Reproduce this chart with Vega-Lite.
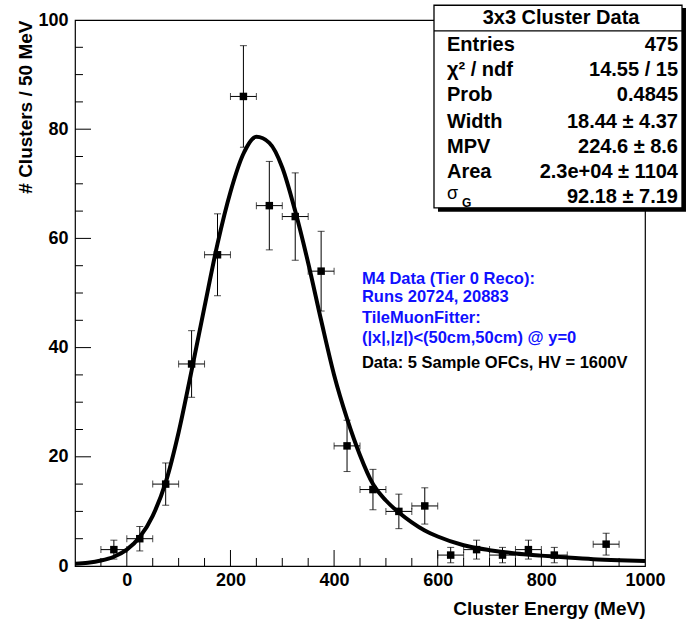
{
  "$schema": "https://vega.github.io/schema/vega-lite/v6.json",
  "width": 570,
  "height": 546,
  "autosize": {"type": "none"},
  "padding": {"left": 75, "top": 20, "right": 41, "bottom": 63},
  "background": "white",
  "config": {
    "font": "Liberation Sans",
    "view": {"stroke": "black", "strokeWidth": 1.2},
    "axis": {
      "domain": false,
      "grid": false,
      "ticks": false,
      "labelFont": "Liberation Sans",
      "labelFontWeight": "bold",
      "labelFontSize": 18,
      "labelColor": "black",
      "titleFont": "Liberation Sans",
      "titleFontWeight": "bold",
      "titleFontSize": 19,
      "titleColor": "black",
      "labelFlush": false,
      "labelOverlap": false
    }
  },
  "datasets": {
    "hist": [
      {"energy": -25, "clusters": 3, "elo": -50, "ehi": 0, "clo": 1.27, "chi": 4.73},
      {"energy": 25, "clusters": 5, "elo": 0, "ehi": 50, "clo": 2.76, "chi": 7.24},
      {"energy": 75, "clusters": 15, "elo": 50, "ehi": 100, "clo": 11.13, "chi": 18.87},
      {"energy": 125, "clusters": 37, "elo": 100, "ehi": 150, "clo": 30.9, "chi": 43.1},
      {"energy": 175, "clusters": 57, "elo": 150, "ehi": 200, "clo": 49.5, "chi": 64.5},
      {"energy": 225, "clusters": 86, "elo": 200, "ehi": 250, "clo": 76.7, "chi": 95.3},
      {"energy": 275, "clusters": 66, "elo": 250, "ehi": 300, "clo": 57.9, "chi": 74.1},
      {"energy": 325, "clusters": 64, "elo": 300, "ehi": 350, "clo": 56, "chi": 72},
      {"energy": 375, "clusters": 54, "elo": 350, "ehi": 400, "clo": 46.7, "chi": 61.3},
      {"energy": 425, "clusters": 22, "elo": 400, "ehi": 450, "clo": 17.3, "chi": 26.7},
      {"energy": 475, "clusters": 14, "elo": 450, "ehi": 500, "clo": 10.3, "chi": 17.7},
      {"energy": 525, "clusters": 10, "elo": 500, "ehi": 550, "clo": 6.84, "chi": 13.16},
      {"energy": 575, "clusters": 11, "elo": 550, "ehi": 600, "clo": 7.68, "chi": 14.32},
      {"energy": 625, "clusters": 2, "elo": 600, "ehi": 650, "clo": 0.59, "chi": 3.41},
      {"energy": 675, "clusters": 3, "elo": 650, "ehi": 700, "clo": 1.27, "chi": 4.73},
      {"energy": 725, "clusters": 2, "elo": 700, "ehi": 750, "clo": 0.59, "chi": 3.41},
      {"energy": 775, "clusters": 3, "elo": 750, "ehi": 800, "clo": 1.27, "chi": 4.73},
      {"energy": 825, "clusters": 2, "elo": 800, "ehi": 850, "clo": 0.59, "chi": 3.41},
      {"energy": 925, "clusters": 4, "elo": 900, "ehi": 950, "clo": 2, "chi": 6}
    ],
    "fit": [
      {"energy": -100, "clusters": 0.4},
      {"energy": -75, "clusters": 0.6},
      {"energy": -50, "clusters": 1.0},
      {"energy": -25, "clusters": 1.7},
      {"energy": 0, "clusters": 3.0},
      {"energy": 25, "clusters": 5.3},
      {"energy": 50, "clusters": 9.2},
      {"energy": 75, "clusters": 15.3},
      {"energy": 100, "clusters": 24.5},
      {"energy": 125, "clusters": 35.8},
      {"energy": 150, "clusters": 47.5},
      {"energy": 175, "clusters": 59},
      {"energy": 200, "clusters": 68.5},
      {"energy": 225, "clusters": 75.5},
      {"energy": 250, "clusters": 78.6},
      {"energy": 275, "clusters": 77.5},
      {"energy": 300, "clusters": 73},
      {"energy": 325, "clusters": 65},
      {"energy": 350, "clusters": 55.5},
      {"energy": 375, "clusters": 45},
      {"energy": 400, "clusters": 35},
      {"energy": 425, "clusters": 27},
      {"energy": 450, "clusters": 20.3},
      {"energy": 475, "clusters": 15},
      {"energy": 500, "clusters": 12},
      {"energy": 525, "clusters": 9.8},
      {"energy": 550, "clusters": 8},
      {"energy": 575, "clusters": 6.5},
      {"energy": 600, "clusters": 5.4},
      {"energy": 650, "clusters": 3.8},
      {"energy": 700, "clusters": 2.9},
      {"energy": 750, "clusters": 2.3},
      {"energy": 800, "clusters": 1.9},
      {"energy": 850, "clusters": 1.55},
      {"energy": 900, "clusters": 1.25},
      {"energy": 950, "clusters": 1.05},
      {"energy": 1000, "clusters": 0.9}
    ],
    "stats": [
      {"label": "Entries", "value": "475", "row": 95.4},
      {"label": "χ² / ndf", "value": "14.55 / 15", "row": 90.9},
      {"label": "Prob", "value": "0.4845", "row": 86.3},
      {"label": "Width", "value": "18.44 ± 4.37", "row": 81.4},
      {"label": "MPV", "value": "224.6 ± 8.6", "row": 76.8},
      {"label": "Area", "value": "2.3e+04 ± 1104", "row": 72.2}
    ],
    "notes": [
      {"note": "M4 Data (Tier 0 Reco):", "row": 52.65},
      {"note": "Runs 20724, 20883", "row": 49.18},
      {"note": "TileMuonFitter:", "row": 45.34},
      {"note": "(|x|,|z|)<(50cm,50cm) @ y=0", "row": 41.68}
    ]
  },
  "encoding": {
    "x": {
      "type": "quantitative",
      "scale": {"domain": [-100, 1000], "nice": false, "zero": false},
      "axis": {
        "title": "Cluster Energy (MeV)",
        "titleAnchor": "end",
        "titlePadding": 10,
        "values": [0, 200, 400, 600, 800, 1000],
        "format": "d",
        "labelPadding": 5
      }
    },
    "y": {
      "type": "quantitative",
      "scale": {"domain": [0, 100], "nice": false, "zero": true},
      "axis": {
        "title": "# Clusters / 50 MeV",
        "titleAnchor": "end",
        "titlePadding": 2,
        "values": [0, 20, 40, 60, 80, 100],
        "labelPadding": 7
      }
    }
  },
  "layer": [
    {
      "data": {"name": "fit"},
      "mark": {"type": "line", "color": "black", "strokeWidth": 4, "interpolate": "monotone", "clip": true},
      "encoding": {
        "x": {"field": "energy", "type": "quantitative"},
        "y": {"field": "clusters", "type": "quantitative"}
      }
    },
    {
      "data": {"name": "hist"},
      "mark": {"type": "rule", "color": "black", "strokeWidth": 1},
      "encoding": {
        "x": {"field": "energy", "type": "quantitative"},
        "y": {"field": "clo", "type": "quantitative"},
        "y2": {"field": "chi"}
      }
    },
    {
      "data": {"name": "hist"},
      "mark": {"type": "rule", "color": "black", "strokeWidth": 1},
      "encoding": {
        "x": {"field": "elo", "type": "quantitative"},
        "x2": {"field": "ehi"},
        "y": {"field": "clusters", "type": "quantitative"}
      }
    },
    {
      "data": {"name": "hist"},
      "mark": {"type": "tick", "orient": "horizontal", "color": "black", "size": 7, "thickness": 1},
      "encoding": {
        "x": {"field": "energy", "type": "quantitative"},
        "y": {"field": "clo", "type": "quantitative"}
      }
    },
    {
      "data": {"name": "hist"},
      "mark": {"type": "tick", "orient": "horizontal", "color": "black", "size": 7, "thickness": 1},
      "encoding": {
        "x": {"field": "energy", "type": "quantitative"},
        "y": {"field": "chi", "type": "quantitative"}
      }
    },
    {
      "data": {"name": "hist"},
      "mark": {"type": "tick", "orient": "vertical", "color": "black", "size": 7, "thickness": 1},
      "encoding": {
        "x": {"field": "elo", "type": "quantitative"},
        "y": {"field": "clusters", "type": "quantitative"}
      }
    },
    {
      "data": {"name": "hist"},
      "mark": {"type": "tick", "orient": "vertical", "color": "black", "size": 7, "thickness": 1},
      "encoding": {
        "x": {"field": "ehi", "type": "quantitative"},
        "y": {"field": "clusters", "type": "quantitative"}
      }
    },
    {
      "data": {"name": "hist"},
      "mark": {"type": "point", "shape": "square", "filled": true, "color": "black", "size": 56, "opacity": 1},
      "encoding": {
        "x": {"field": "energy", "type": "quantitative"},
        "y": {"field": "clusters", "type": "quantitative"}
      }
    },
    {
      "data": {"values": [{"tick": 0}, {"tick": 200}, {"tick": 400}, {"tick": 600}, {"tick": 800}]},
      "mark": {"type": "rule", "color": "black", "strokeWidth": 1, "clip": false},
      "encoding": {
        "x": {"field": "tick", "type": "quantitative"},
        "y": {"datum": 0},
        "y2": {"datum": 2.93}
      }
    },
    {
      "data": {"values": [{"tick": -50}, {"tick": 50}, {"tick": 100}, {"tick": 150}, {"tick": 250}, {"tick": 300}, {"tick": 350}, {"tick": 450}, {"tick": 500}, {"tick": 550}, {"tick": 650}, {"tick": 700}, {"tick": 750}, {"tick": 850}, {"tick": 900}, {"tick": 950}]},
      "mark": {"type": "rule", "color": "black", "strokeWidth": 1, "clip": false},
      "encoding": {
        "x": {"field": "tick", "type": "quantitative"},
        "y": {"datum": 0},
        "y2": {"datum": 1.47}
      }
    },
    {
      "data": {"values": [{"tick": 20}, {"tick": 40}, {"tick": 60}, {"tick": 80}]},
      "mark": {"type": "rule", "color": "black", "strokeWidth": 1, "clip": false},
      "encoding": {
        "x": {"datum": -100},
        "x2": {"datum": -69.1},
        "y": {"field": "tick", "type": "quantitative"}
      }
    },
    {
      "data": {"values": [{"tick": 5}, {"tick": 10}, {"tick": 15}, {"tick": 25}, {"tick": 30}, {"tick": 35}, {"tick": 45}, {"tick": 50}, {"tick": 55}, {"tick": 65}, {"tick": 70}, {"tick": 75}, {"tick": 85}, {"tick": 90}, {"tick": 95}]},
      "mark": {"type": "rule", "color": "black", "strokeWidth": 1, "clip": false},
      "encoding": {
        "x": {"datum": -100},
        "x2": {"datum": -84.6},
        "y": {"field": "tick", "type": "quantitative"}
      }
    },
    {
      "data": {"values": [{"a": 1}]},
      "mark": {"type": "rect", "color": "black", "clip": false},
      "encoding": {
        "x": {"datum": 600.5},
        "x2": {"datum": 1079.1},
        "y": {"datum": 102.2},
        "y2": {"datum": 64.9}
      }
    },
    {
      "data": {"values": [{"a": 1}]},
      "mark": {"type": "rect", "fill": "white", "stroke": "black", "strokeWidth": 1.3, "clip": false},
      "encoding": {
        "x": {"datum": 592.8},
        "x2": {"datum": 1071.4},
        "y": {"datum": 102.7},
        "y2": {"datum": 65.6}
      }
    },
    {
      "data": {"values": [{"a": 1}]},
      "mark": {"type": "rule", "color": "black", "strokeWidth": 1.3, "clip": false},
      "encoding": {
        "x": {"datum": 592.8},
        "x2": {"datum": 1071.4},
        "y": {"datum": 98.0}
      }
    },
    {
      "data": {"values": [{"title": "3x3 Cluster Data"}]},
      "mark": {"type": "text", "align": "center", "baseline": "middle", "fontSize": 20, "fontWeight": "bold", "color": "black", "clip": false},
      "encoding": {
        "x": {"datum": 838},
        "y": {"datum": 100.4},
        "text": {"field": "title"}
      }
    },
    {
      "data": {"name": "stats"},
      "mark": {"type": "text", "align": "left", "baseline": "middle", "fontSize": 20, "fontWeight": "bold", "color": "black", "clip": false},
      "encoding": {
        "x": {"datum": 617.9},
        "y": {"field": "row", "type": "quantitative"},
        "text": {"field": "label"}
      }
    },
    {
      "data": {"values": [{"sym": "σ"}]},
      "mark": {"type": "text", "align": "left", "baseline": "middle", "fontSize": 18, "fontWeight": "normal", "color": "black", "clip": false},
      "encoding": {
        "x": {"datum": 617.9},
        "y": {"datum": 68.2},
        "text": {"field": "sym"}
      }
    },
    {
      "data": {"values": [{"sub": "G"}]},
      "mark": {"type": "text", "align": "left", "baseline": "middle", "fontSize": 12, "fontWeight": "bold", "color": "black", "clip": false},
      "encoding": {
        "x": {"datum": 647},
        "y": {"datum": 66.5},
        "text": {"field": "sub"}
      }
    },
    {
      "data": {"values": [{"value": "92.18 ± 7.19"}]},
      "mark": {"type": "text", "align": "right", "baseline": "middle", "fontSize": 20, "fontWeight": "bold", "color": "black", "clip": false},
      "encoding": {
        "x": {"datum": 1063.7},
        "y": {"datum": 67.6},
        "text": {"field": "value"}
      }
    },
    {
      "data": {"name": "stats"},
      "mark": {"type": "text", "align": "right", "baseline": "middle", "fontSize": 20, "fontWeight": "bold", "color": "black", "clip": false},
      "encoding": {
        "x": {"datum": 1063.7},
        "y": {"field": "row", "type": "quantitative"},
        "text": {"field": "value"}
      }
    },
    {
      "data": {"name": "notes"},
      "mark": {"type": "text", "align": "left", "baseline": "middle", "fontSize": 16.5, "fontWeight": "bold", "color": "#1010ff"},
      "encoding": {
        "x": {"datum": 453.7},
        "y": {"field": "row", "type": "quantitative"},
        "text": {"field": "note"}
      }
    },
    {
      "data": {"values": [{"note": "Data: 5 Sample OFCs, HV = 1600V"}]},
      "mark": {"type": "text", "align": "left", "baseline": "middle", "fontSize": 16.5, "fontWeight": "bold", "color": "black"},
      "encoding": {
        "x": {"datum": 453.7},
        "y": {"datum": 37.11},
        "text": {"field": "note"}
      }
    }
  ]
}
